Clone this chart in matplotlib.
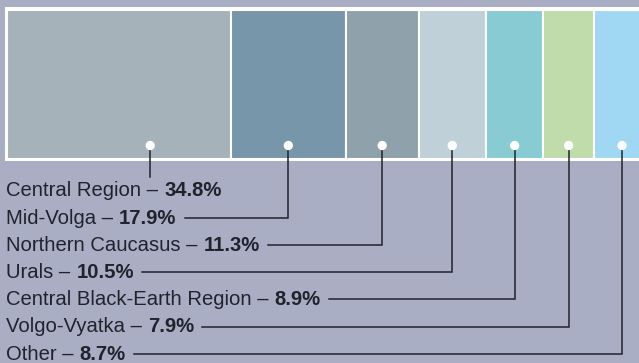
import matplotlib

matplotlib.use("Agg")

import matplotlib.pyplot as plt
from matplotlib.patches import Rectangle

regions = [
    "Central Region",
    "Mid-Volga",
    "Northern Caucasus",
    "Urals",
    "Central Black-Earth Region",
    "Volgo-Vyatka",
    "Other",
]
shares = [34.8, 17.9, 11.3, 10.5, 8.9, 7.9, 8.7]
colors = ["#a5b2ba", "#7896aa", "#8fa1ab", "#bfd0d9", "#88cbd2", "#c0dcaa", "#a0d8f4"]
# where along each cell (0..1) the leader dot sits
anchors = [0.64, 0.5, 0.5, 0.5, 0.5, 0.5, 0.5]

BG = "#a9aec5"
INK = "#20232c"
W, H = 639, 363
PX = 6.43          # pixels per percentage point
LEFT = 7           # pixel where 0% starts
FONT = "Liberation Sans"
SIZE = 14.6

fig = plt.figure(figsize=(W / 100, H / 100), dpi=100, facecolor=BG)
ax = fig.add_axes([0, 0, 1, 1])
ax.set_xlim(-LEFT / PX, (W - LEFT) / PX)
ax.set_ylim(H, 0)
ax.axis("off")

starts = [sum(shares[:i]) for i in range(len(shares))]

# white frame behind the cells
ax.add_patch(Rectangle((-2.5 / PX, 7), 110, 154, facecolor="white", edgecolor="none", zorder=1))
ax.bar(starts, [149] * len(shares), width=shares, bottom=9.5, align="edge",
       color=colors, edgecolor="white", linewidth=1.5, zorder=2)

dot_x = [s + w * a for s, w, a in zip(starts, shares, anchors)]
dot_y = 145.5
ax.scatter(dot_x, [dot_y] * len(dot_x), s=45, color="white", edgecolors="none", zorder=5)

renderer = fig.canvas.get_renderer()
text_x = -1 / PX
row_gap = 27.2
first_base = 196.5

for i, (name, share) in enumerate(zip(regions, shares)):
    base = first_base + i * row_gap
    t1 = ax.text(text_x, base, f"{name} \u2013", fontsize=SIZE, family=FONT,
                 color=INK, va="baseline", ha="left", zorder=6)
    w1 = t1.get_window_extent(renderer).width
    x2 = text_x + (w1 + 6) / PX
    t2 = ax.text(x2, base, f"{share}%", fontsize=SIZE, family=FONT, weight="bold",
                 color=INK, va="baseline", ha="left", zorder=6)
    w2 = t2.get_window_extent(renderer).width
    x_end = x2 + (w2 + 8) / PX

    if i == 0:
        ax.plot([dot_x[i], dot_x[i]], [dot_y, base - 20], color=INK, lw=1.1, zorder=4)
    else:
        ly = base - 6
        ax.plot([dot_x[i], dot_x[i], x_end], [dot_y, ly, ly], color=INK, lw=1.1,
                solid_joinstyle="miter", zorder=4)

fig.savefig("out.png", dpi=100, facecolor=BG)
